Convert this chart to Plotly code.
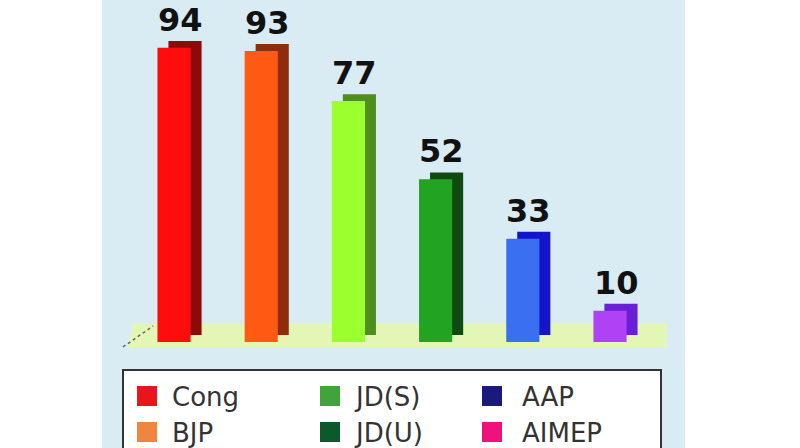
import plotly.graph_objects as go

# seats per party (reference bar chart)
parties = ["Cong", "BJP", "JD(S)", "JD(U)", "AAP", "AIMEP"]
seats = [94, 93, 77, 52, 33, 10]
front_colors = ["#ff0d0d", "#ff5a14", "#9cff2e", "#22a322", "#3b6ff2", "#b042f5"]
side_colors = ["#8c0a0a", "#8f2c0c", "#4f8f1f", "#0f4a10", "#1414c8", "#6a1fd6"]
legend_colors = ["#e8161c", "#f0853f", "#3fa53a", "#0c5a2c", "#1a1a7c", "#f0127c"]

W, H = 800, 448
L, R = 102, 115
PW = W - L - R
DEPTH_X, DEPTH_Y = 0.126, 2.2  # fake 3d extrusion (category units, value units)
BAR_W = 0.38


def px(x):
    return (x - L) / PW


def py(y):
    return 1 - y / H


fig = go.Figure()
# back copy = side / top faces
fig.add_trace(go.Bar(x=parties, y=seats, base=DEPTH_Y, width=BAR_W, offset=-BAR_W / 2 + DEPTH_X,
                     marker=dict(color=side_colors, line=dict(width=0)), showlegend=False, hoverinfo="skip"))
# front faces
fig.add_trace(go.Bar(x=parties, y=seats, width=BAR_W, offset=-BAR_W / 2,
                     marker=dict(color=front_colors, line=dict(width=0)), showlegend=False))

shapes = []
# floor
shapes.append(dict(type="path", xref="x", yref="y", layer="below",
                   path="M -0.53,-1.6 L 5.65,-1.6 L 5.65,6 L -0.47,6 Z",
                   fillcolor="#e4f6b6", line=dict(width=0)))
shapes.append(dict(type="line", xref="x", yref="y", layer="below",
                   x0=-0.585, y0=-1.6, x1=-0.24, y1=5.1,
                   line=dict(color="#666666", width=1.5, dash="dot")))

# legend box
shapes.append(dict(type="rect", xref="paper", yref="paper",
                   x0=px(123), x1=px(661), y0=py(480), y1=py(370),
                   fillcolor="white", line=dict(color="#333333", width=2)))

annotations = []
for p, v in zip(parties, seats):
    annotations.append(dict(x=p, y=v + DEPTH_Y, xref="x", yref="y", text=f"<b>{v}</b>",
                            showarrow=False, yanchor="bottom", xshift=6,
                            font=dict(family="DejaVu Sans", size=32, color="#111111")))

col_sw = [137, 320, 482]
col_txt = [170, 352, 520]
row_y = [396, 432]
for i, (p, c) in enumerate(zip(parties, legend_colors)):
    col, row = i // 2, i % 2
    shapes.append(dict(type="rect", xref="paper", yref="paper",
                       x0=px(col_sw[col]), x1=px(col_sw[col] + 20),
                       y0=py(row_y[row] + 10), y1=py(row_y[row] - 10),
                       fillcolor=c, line=dict(width=0)))
    annotations.append(dict(x=px(col_txt[col]), y=py(row_y[row] + 1), xref="paper", yref="paper",
                            text=p, showarrow=False, xanchor="left", yanchor="middle",
                            font=dict(family="DejaVu Sans", size=26, color="#333333")))

fig.update_layout(
    width=W, height=H,
    margin=dict(l=L, r=R, t=0, b=0),
    paper_bgcolor="white",
    plot_bgcolor="#d9ecf4",
    barmode="overlay",
    showlegend=False,
    shapes=shapes,
    annotations=annotations,
)
fig.update_xaxes(range=[-0.826, 5.86], showticklabels=False, showgrid=False, zeroline=False, showline=False)
fig.update_yaxes(range=[-33.9, 109.3], showticklabels=False, showgrid=False, zeroline=False, showline=False)

# drop the default page margin so the figure fills the window
fig.write_html("out.html", config={"displayModeBar": False},
               post_script="document.body.style.margin='0';document.body.style.overflow='hidden';")
